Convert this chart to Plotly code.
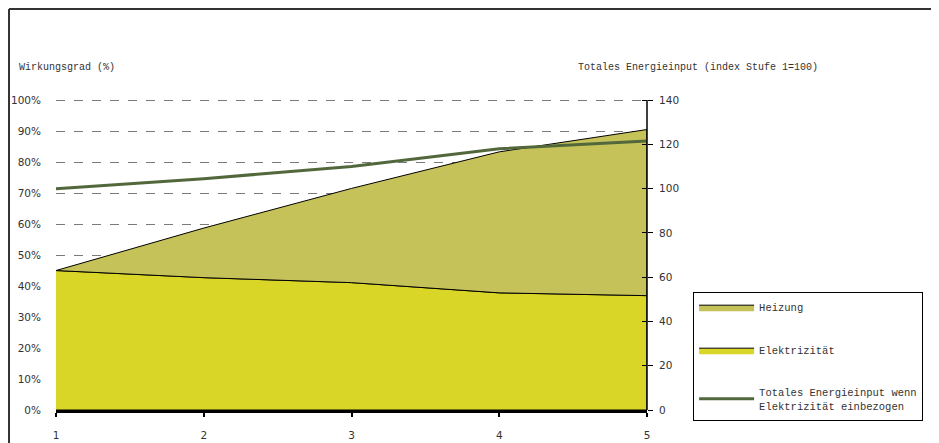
import plotly.graph_objects as go

stufen = [1, 2, 3, 4, 5]
elektrizitaet = [45.0, 42.7, 41.1, 37.8, 36.9]
heizung = [0.0, 16.0, 30.4, 45.5, 53.6]
total_input = [100.0, 104.5, 110.0, 118.0, 121.5]

left_ticks = list(range(0, 101, 10))
left_labels = [f"{v}%" for v in left_ticks]
right_ticks = list(range(0, 141, 20))

col_heiz = "rgb(198,194,90)"
col_elek = "rgb(218,214,40)"
col_line = "rgb(82,104,60)"
txt = "#333333"
mono = "Liberation Mono"

tops = [e + h for e, h in zip(elektrizitaet, heizung)]

fig = go.Figure()

fig.add_trace(go.Scatter(
    x=stufen + [stufen[-1], stufen[0]],
    y=elektrizitaet + [0, 0],
    fill="toself", fillcolor=col_elek, mode="lines",
    line=dict(color="black", width=1),
    name="Elektrizität", legendrank=2, legendgroup="b",
    hoverinfo="skip",
))
fig.add_trace(go.Scatter(
    x=stufen + stufen[::-1],
    y=tops + elektrizitaet[::-1],
    fill="toself", fillcolor=col_heiz, mode="lines",
    line=dict(color="black", width=1),
    name="Heizung", legendrank=1, legendgroup="a",
    hoverinfo="skip",
))
fig.add_trace(go.Scatter(
    x=stufen, y=total_input, yaxis="y2", mode="lines",
    line=dict(color=col_line, width=3),
    name="Totales Energieinput wenn<br>Elektrizität einbezogen",
    legendrank=3, legendgroup="c",
))
fig.add_trace(go.Scatter(x=[stufen[0]], y=[total_input[0]], yaxis="y3",
                         mode="markers", marker=dict(opacity=0),
                         showlegend=False, hoverinfo="skip"))

ymax = 101
# plot area: 100% sits at figure px 92, 0% at 402
fig.update_layout(
    width=931, height=435,
    margin=dict(l=48, r=292, t=89, b=33, autoexpand=False),
    paper_bgcolor="white", plot_bgcolor="white",
    font=dict(family="DejaVu Sans", size=10.5, color=txt),
    xaxis=dict(
        range=[1, 5], tickvals=stufen, ticktext=[str(s) for s in stufen],
        showgrid=False, zeroline=False,
        showline=True, linecolor="black", linewidth=2.5,
        ticks="outside", ticklen=4, tickwidth=2, tickcolor="black",
        ticklabelstandoff=10,
    ),
    yaxis=dict(
        range=[0, ymax], tickvals=left_ticks, ticktext=left_labels,
        showgrid=True, gridcolor="#7a7a7a", griddash="dash", gridwidth=1,
        zeroline=False, showline=False, ticks="",
        ticklabelstandoff=14,
    ),
    yaxis2=dict(
        range=[0, ymax * 1.4], tickvals=right_ticks, overlaying="y", side="right",
        showgrid=False, zeroline=False,
        showline=False,
        ticks="outside", ticklen=5, tickcolor="black", tickwidth=1,
        ticklabelstandoff=4,
    ),
    yaxis3=dict(
        range=[0, ymax * 1.4], tickvals=right_ticks, overlaying="y", side="right",
        showgrid=False, zeroline=False, showline=False,
        ticks="inside", ticklen=5, tickcolor="black", tickwidth=1,
        showticklabels=False,
    ),
    legend=dict(
        x=1.078, y=0.378, xanchor="left", yanchor="top",
        bordercolor="black", borderwidth=1, bgcolor="white",
        font=dict(family=mono, size=10.5, color=txt),
        tracegroupgap=24, itemwidth=55,
    ),
    annotations=[
        dict(text="Wirkungsgrad (%)", xref="paper", yref="paper",
             x=-0.066, y=1.095, xanchor="left", yanchor="middle",
             showarrow=False, font=dict(family=mono, size=10, color=txt)),
        dict(text="Totales Energieinput (index Stufe 1=100)", xref="paper", yref="paper",
             x=0.88, y=1.095, xanchor="left", yanchor="middle",
             showarrow=False, font=dict(family=mono, size=10, color=txt)),
    ],
    shapes=[
        # right value axis line (from 0 to 140)
        dict(type="line", xref="paper", yref="y2", x0=1, x1=1,
             y0=right_ticks[0], y1=right_ticks[-1], line=dict(color="black", width=1.5)),
        dict(type="line", xref="paper", yref="paper", x0=-0.0795, x1=-0.0795,
             y0=-0.3, y1=1.281, line=dict(color="#333333", width=2)),
        dict(type="line", xref="paper", yref="paper", x0=-0.0795, x1=1.7,
             y0=1.281, y1=1.281, line=dict(color="#333333", width=2)),
    ],
)

fig.write_html("out.html")
